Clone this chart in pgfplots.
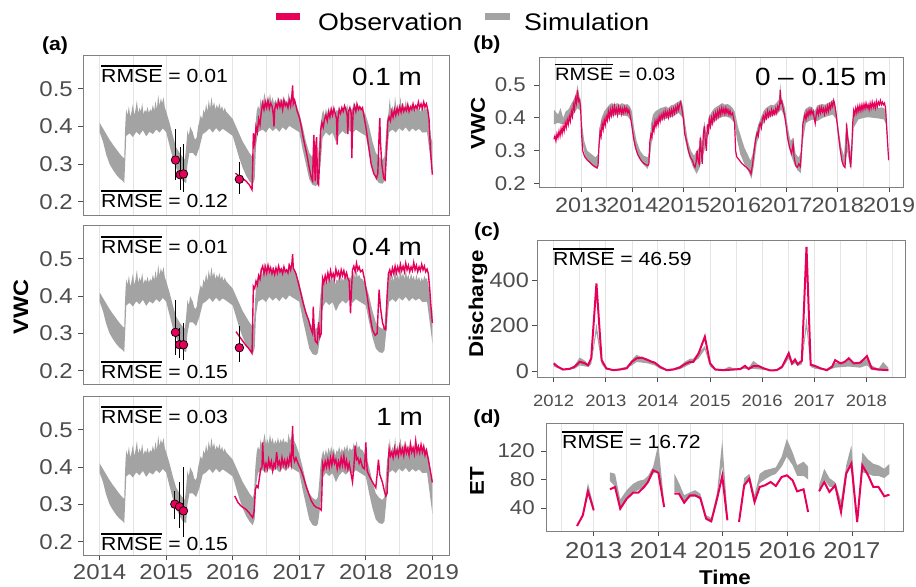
\documentclass[border=0pt]{standalone}
\usepackage{fontspec}
\setmainfont{Liberation Sans}[FakeStretch=1.12]
\usepackage{pgfplots}
\usepackage{pgfplotstable}
\pgfplotsset{compat=1.18}
\usepgfplotslibrary{fillbetween}
\definecolor{obs}{RGB}{230,0,90}
\definecolor{sim}{RGB}{163,163,163}
\definecolor{tickc}{RGB}{77,77,77}
\definecolor{gridc}{RGB}{228,228,228}
\definecolor{framec}{RGB}{128,128,128}
\newcommand{\ol}[1]{\vbox{\hrule height 1.3bp\kern 2.2bp\hbox{#1}}}
\newcommand{\fs}[1]{\fontsize{#1}{#1}\selectfont}

% ---------- panel (a): simulation band (shared) ----------
\pgfplotstableread{
x y
2014.00 0.410
2014.05 0.395
2014.10 0.380
2014.15 0.365
2014.20 0.352
2014.25 0.340
2014.30 0.328
2014.35 0.318
2014.37 0.316
2014.38 0.380
2014.39 0.420
2014.40 0.445
2014.42 0.430
2014.44 0.455
2014.46 0.425
2014.48 0.440
2014.50 0.460
2014.52 0.430
2014.54 0.445
2014.56 0.470
2014.58 0.435
2014.60 0.450
2014.62 0.440
2014.64 0.462
2014.66 0.432
2014.68 0.445
2014.70 0.438
2014.72 0.452
2014.74 0.436
2014.76 0.446
2014.78 0.440
2014.80 0.458
2014.82 0.442
2014.84 0.468
2014.86 0.445
2014.88 0.484
2014.90 0.455
2014.92 0.475
2014.94 0.462
2014.96 0.478
2014.98 0.450
2015.00 0.440
2015.05 0.410
2015.10 0.375
2015.15 0.345
2015.20 0.330
2015.25 0.318
2015.28 0.312
2015.30 0.345
2015.32 0.390
2015.34 0.375
2015.36 0.400
2015.38 0.392
2015.40 0.385
2015.42 0.370
2015.44 0.365
2015.46 0.372
2015.48 0.400
2015.50 0.415
2015.52 0.430
2015.54 0.420
2015.56 0.445
2015.58 0.435
2015.60 0.460
2015.62 0.440
2015.64 0.470
2015.66 0.448
2015.68 0.478
2015.70 0.452
2015.72 0.465
2015.74 0.445
2015.76 0.458
2015.78 0.448
2015.80 0.462
2015.82 0.445
2015.84 0.455
2015.86 0.440
2015.88 0.450
2015.90 0.440
2015.95 0.430
2016.00 0.420
2016.05 0.400
2016.10 0.380
2016.15 0.360
2016.20 0.345
2016.25 0.330
2016.30 0.318
2016.32 0.330
2016.34 0.400
2016.36 0.440
2016.38 0.455
2016.40 0.445
2016.42 0.475
2016.44 0.455
2016.46 0.470
2016.48 0.490
2016.50 0.460
2016.52 0.475
2016.54 0.462
2016.56 0.488
2016.58 0.465
2016.60 0.478
2016.62 0.460
2016.64 0.472
2016.66 0.462
2016.68 0.480
2016.70 0.462
2016.72 0.475
2016.74 0.465
2016.76 0.478
2016.78 0.465
2016.80 0.470
2016.82 0.462
2016.84 0.490
2016.86 0.470
2016.88 0.480
2016.90 0.500
2016.92 0.472
2016.95 0.460
2016.98 0.445
2017.00 0.435
2017.05 0.400
2017.10 0.360
2017.15 0.330
2017.20 0.318
2017.25 0.312
2017.28 0.320
2017.30 0.360
2017.32 0.405
2017.34 0.430
2017.36 0.445
2017.38 0.428
2017.40 0.448
2017.42 0.432
2017.44 0.452
2017.46 0.438
2017.48 0.455
2017.50 0.440
2017.52 0.450
2017.54 0.430
2017.56 0.445
2017.58 0.440
2017.60 0.455
2017.62 0.438
2017.64 0.450
2017.66 0.440
2017.68 0.455
2017.70 0.445
2017.72 0.460
2017.74 0.440
2017.76 0.452
2017.78 0.445
2017.80 0.448
2017.82 0.465
2017.84 0.448
2017.86 0.470
2017.88 0.450
2017.90 0.458
2017.92 0.448
2017.95 0.445
2018.00 0.430
2018.05 0.400
2018.10 0.360
2018.15 0.330
2018.20 0.318
2018.25 0.312
2018.28 0.320
2018.30 0.370
2018.32 0.420
2018.34 0.435
2018.36 0.475
2018.38 0.440
2018.40 0.455
2018.42 0.438
2018.44 0.480
2018.46 0.445
2018.48 0.460
2018.50 0.442
2018.52 0.478
2018.54 0.450
2018.56 0.462
2018.58 0.445
2018.60 0.470
2018.62 0.448
2018.64 0.458
2018.66 0.442
2018.68 0.462
2018.70 0.445
2018.72 0.455
2018.74 0.440
2018.76 0.458
2018.78 0.442
2018.80 0.452
2018.82 0.438
2018.84 0.450
2018.86 0.440
2018.88 0.455
2018.90 0.445
2018.92 0.448
2018.95 0.420
2018.98 0.370
2019.00 0.360
}\aU
\pgfplotstableread{
x y
2014.00 0.385
2014.05 0.360
2014.10 0.325
2014.15 0.300
2014.20 0.285
2014.25 0.272
2014.30 0.262
2014.35 0.255
2014.37 0.250
2014.39 0.330
2014.40 0.375
2014.45 0.382
2014.50 0.372
2014.55 0.386
2014.60 0.378
2014.65 0.390
2014.70 0.374
2014.75 0.386
2014.80 0.380
2014.85 0.392
2014.90 0.384
2014.95 0.395
2015.00 0.385
2015.05 0.350
2015.10 0.315
2015.15 0.290
2015.20 0.270
2015.25 0.255
2015.30 0.250
2015.32 0.300
2015.35 0.330
2015.40 0.330
2015.45 0.320
2015.50 0.345
2015.55 0.380
2015.60 0.386
2015.65 0.395
2015.70 0.384
2015.75 0.396
2015.80 0.386
2015.85 0.394
2015.90 0.388
2016.00 0.375
2016.05 0.345
2016.10 0.315
2016.15 0.290
2016.20 0.270
2016.25 0.255
2016.30 0.245
2016.33 0.260
2016.35 0.350
2016.38 0.385
2016.45 0.392
2016.50 0.384
2016.55 0.398
2016.60 0.388
2016.65 0.396
2016.70 0.386
2016.75 0.398
2016.80 0.390
2016.85 0.402
2016.90 0.396
2017.00 0.385
2017.05 0.340
2017.10 0.300
2017.15 0.260
2017.20 0.245
2017.25 0.242
2017.28 0.248
2017.32 0.300
2017.35 0.370
2017.40 0.385
2017.45 0.376
2017.50 0.384
2017.55 0.360
2017.60 0.378
2017.65 0.388
2017.70 0.380
2017.75 0.390
2017.80 0.382
2017.85 0.392
2017.90 0.386
2018.00 0.375
2018.05 0.330
2018.10 0.290
2018.15 0.260
2018.20 0.250
2018.25 0.248
2018.28 0.255
2018.32 0.330
2018.35 0.385
2018.40 0.392
2018.45 0.384
2018.50 0.396
2018.55 0.388
2018.60 0.398
2018.65 0.386
2018.70 0.395
2018.75 0.388
2018.80 0.394
2018.85 0.384
2018.92 0.385
2018.96 0.330
2019.00 0.275
}\aL

% ---------- panel (a) observations ----------
\pgfplotstableread{
x y
2016.04 0.276
2016.10 0.268
2016.15 0.262
2016.20 0.255
2016.25 0.245
2016.29 0.232
2016.30 0.294
2016.31 0.382
2016.33 0.355
2016.35 0.400
2016.37 0.385
2016.39 0.420
2016.41 0.405
2016.43 0.440
2016.45 0.462
2016.47 0.445
2016.49 0.465
2016.51 0.450
2016.53 0.470
2016.55 0.448
2016.57 0.462
2016.59 0.455
2016.61 0.432
2016.62 0.400
2016.63 0.445
2016.65 0.460
2016.67 0.450
2016.69 0.468
2016.71 0.452
2016.73 0.465
2016.75 0.445
2016.77 0.470
2016.79 0.455
2016.81 0.462
2016.83 0.450
2016.85 0.470
2016.87 0.455
2016.89 0.485
2016.90 0.509
2016.91 0.460
2016.93 0.470
2016.95 0.455
2016.97 0.440
2017.00 0.425
2017.03 0.400
2017.06 0.370
2017.09 0.345
2017.12 0.320
2017.15 0.290
2017.18 0.265
2017.20 0.256
2017.21 0.330
2017.22 0.378
2017.23 0.300
2017.24 0.255
2017.25 0.350
2017.26 0.372
2017.27 0.290
2017.28 0.248
2017.29 0.245
2017.31 0.330
2017.32 0.390
2017.34 0.410
2017.36 0.398
2017.38 0.420
2017.40 0.430
2017.42 0.415
2017.44 0.438
2017.46 0.425
2017.48 0.445
2017.50 0.430
2017.52 0.448
2017.54 0.435
2017.56 0.420
2017.57 0.352
2017.58 0.420
2017.60 0.445
2017.62 0.435
2017.64 0.450
2017.66 0.440
2017.68 0.455
2017.70 0.445
2017.72 0.430
2017.73 0.380
2017.74 0.440
2017.76 0.450
2017.78 0.435
2017.79 0.316
2017.80 0.400
2017.81 0.440
2017.83 0.455
2017.85 0.440
2017.87 0.458
2017.89 0.445
2017.91 0.452
2017.93 0.445
2017.95 0.450
2017.97 0.430
2018.00 0.400
2018.04 0.350
2018.08 0.300
2018.12 0.275
2018.16 0.263
2018.18 0.275
2018.20 0.380
2018.21 0.422
2018.22 0.360
2018.24 0.300
2018.27 0.262
2018.29 0.258
2018.31 0.330
2018.33 0.413
2018.35 0.425
2018.37 0.415
2018.39 0.440
2018.41 0.425
2018.43 0.445
2018.45 0.430
2018.47 0.448
2018.49 0.435
2018.51 0.452
2018.53 0.438
2018.55 0.455
2018.57 0.440
2018.59 0.450
2018.61 0.442
2018.63 0.458
2018.65 0.440
2018.67 0.452
2018.69 0.445
2018.71 0.460
2018.73 0.445
2018.75 0.455
2018.77 0.448
2018.79 0.465
2018.81 0.450
2018.83 0.460
2018.85 0.448
2018.87 0.465
2018.89 0.452
2018.91 0.460
2018.93 0.445
2018.95 0.420
2018.97 0.340
2019.00 0.272
}\aOa
\pgfplotstableread{
x y
2016.05 0.305
2016.10 0.292
2016.15 0.280
2016.20 0.268
2016.25 0.258
2016.29 0.247
2016.30 0.330
2016.31 0.426
2016.33 0.420
2016.35 0.440
2016.37 0.430
2016.39 0.455
2016.41 0.445
2016.43 0.470
2016.45 0.480
2016.47 0.460
2016.49 0.478
2016.51 0.462
2016.53 0.482
2016.55 0.465
2016.57 0.475
2016.59 0.460
2016.61 0.472
2016.63 0.458
2016.65 0.475
2016.67 0.462
2016.69 0.480
2016.71 0.465
2016.73 0.472
2016.75 0.460
2016.77 0.478
2016.79 0.465
2016.81 0.470
2016.83 0.462
2016.85 0.482
2016.87 0.470
2016.89 0.490
2016.90 0.512
2016.91 0.475
2016.93 0.468
2016.95 0.460
2016.98 0.440
2017.02 0.410
2017.06 0.380
2017.10 0.355
2017.14 0.336
2017.18 0.310
2017.20 0.300
2017.21 0.372
2017.22 0.330
2017.24 0.280
2017.27 0.274
2017.29 0.330
2017.31 0.290
2017.33 0.300
2017.35 0.448
2017.37 0.435
2017.39 0.455
2017.41 0.440
2017.43 0.462
2017.45 0.445
2017.47 0.468
2017.49 0.450
2017.51 0.460
2017.53 0.445
2017.55 0.472
2017.57 0.455
2017.59 0.465
2017.61 0.448
2017.63 0.470
2017.65 0.455
2017.67 0.468
2017.69 0.450
2017.71 0.462
2017.73 0.448
2017.75 0.440
2017.77 0.354
2017.78 0.400
2017.80 0.470
2017.82 0.480
2017.84 0.465
2017.86 0.488
2017.88 0.470
2017.90 0.478
2017.92 0.465
2017.95 0.470
2017.98 0.445
2018.02 0.400
2018.06 0.350
2018.10 0.310
2018.14 0.295
2018.17 0.300
2018.19 0.380
2018.20 0.417
2018.22 0.370
2018.25 0.330
2018.28 0.312
2018.30 0.310
2018.32 0.400
2018.34 0.460
2018.36 0.470
2018.38 0.455
2018.40 0.475
2018.42 0.460
2018.44 0.480
2018.46 0.462
2018.48 0.478
2018.50 0.465
2018.52 0.485
2018.54 0.468
2018.56 0.480
2018.58 0.465
2018.60 0.488
2018.62 0.470
2018.64 0.482
2018.66 0.465
2018.68 0.478
2018.70 0.468
2018.72 0.490
2018.74 0.470
2018.76 0.482
2018.78 0.465
2018.80 0.478
2018.82 0.468
2018.84 0.485
2018.86 0.470
2018.88 0.480
2018.90 0.465
2018.92 0.472
2018.94 0.460
2018.96 0.420
2018.98 0.370
2019.00 0.328
}\aOb
\pgfplotstableread{
x y
2016.03 0.323
2016.08 0.305
2016.13 0.295
2016.20 0.287
2016.25 0.277
2016.30 0.265
2016.32 0.280
2016.34 0.340
2016.36 0.350
2016.38 0.345
2016.40 0.370
2016.42 0.395
2016.44 0.400
2016.45 0.466
2016.46 0.420
2016.48 0.395
2016.50 0.410
2016.52 0.395
2016.54 0.420
2016.56 0.400
2016.58 0.415
2016.60 0.390
2016.62 0.410
2016.64 0.400
2016.66 0.440
2016.68 0.405
2016.70 0.415
2016.72 0.398
2016.74 0.425
2016.76 0.405
2016.78 0.418
2016.80 0.400
2016.82 0.420
2016.84 0.405
2016.86 0.430
2016.88 0.410
2016.90 0.510
2016.91 0.430
2016.93 0.415
2016.95 0.425
2016.98 0.410
2017.02 0.395
2017.06 0.375
2017.10 0.350
2017.14 0.330
2017.18 0.310
2017.22 0.298
2017.26 0.292
2017.30 0.290
2017.33 0.285
2017.34 0.330
2017.35 0.410
2017.37 0.395
2017.39 0.415
2017.41 0.400
2017.43 0.420
2017.45 0.400
2017.47 0.425
2017.49 0.405
2017.51 0.430
2017.53 0.410
2017.55 0.420
2017.57 0.395
2017.59 0.415
2017.61 0.400
2017.63 0.425
2017.65 0.405
2017.67 0.430
2017.69 0.400
2017.71 0.418
2017.73 0.395
2017.75 0.410
2017.78 0.380
2017.80 0.360
2017.82 0.400
2017.84 0.457
2017.86 0.420
2017.88 0.425
2017.90 0.410
2017.92 0.420
2017.95 0.400
2017.98 0.395
2018.00 0.466
2018.02 0.390
2018.05 0.377
2018.10 0.360
2018.15 0.345
2018.17 0.380
2018.19 0.420
2018.21 0.380
2018.25 0.359
2018.28 0.335
2018.30 0.323
2018.32 0.330
2018.34 0.420
2018.35 0.448
2018.37 0.430
2018.39 0.440
2018.41 0.425
2018.43 0.450
2018.45 0.432
2018.47 0.445
2018.49 0.430
2018.51 0.455
2018.53 0.435
2018.55 0.448
2018.57 0.430
2018.59 0.458
2018.61 0.438
2018.63 0.450
2018.65 0.432
2018.67 0.462
2018.69 0.440
2018.71 0.452
2018.73 0.435
2018.75 0.470
2018.77 0.440
2018.79 0.455
2018.81 0.438
2018.83 0.460
2018.85 0.440
2018.87 0.455
2018.89 0.432
2018.91 0.445
2018.94 0.420
2018.97 0.390
2019.00 0.359
}\aOc
\pgfplotstableread{
x y ep em
2015.14 0.311 0.083 0.053
2015.21 0.272 0.074 0.040
2015.26 0.274 0.080 0.047
2016.10 0.260 0.047 0.039
}\pA
\pgfplotstableread{
x y ep em
2015.14 0.303 0.087 0.060
2015.20 0.270 0.045 0.035
2015.26 0.270 0.059 0.041
2016.10 0.262 0.057 0.037
}\pB
\pgfplotstableread{
x y ep em
2015.13 0.301 0.036 0.039
2015.20 0.294 0.065 0.056
2015.26 0.283 0.116 0.071
}\pC

% ---------- panel (b) ----------
\pgfplotstableread{
x y
2012.47 0.335
2012.49 0.345
2012.51 0.330
2012.53 0.352
2012.55 0.340
2012.57 0.360
2012.59 0.345
2012.61 0.368
2012.63 0.352
2012.65 0.375
2012.67 0.360
2012.69 0.385
2012.71 0.370
2012.73 0.395
2012.75 0.380
2012.77 0.405
2012.79 0.390
2012.81 0.420
2012.83 0.405
2012.85 0.440
2012.87 0.425
2012.89 0.460
2012.91 0.445
2012.93 0.484
2012.95 0.450
2012.97 0.455
2012.99 0.433
2013.01 0.350
2013.03 0.300
2013.07 0.282
2013.12 0.272
2013.17 0.265
2013.22 0.257
2013.27 0.252
2013.31 0.248
2013.33 0.255
2013.35 0.320
2013.37 0.360
2013.39 0.345
2013.41 0.383
2013.43 0.365
2013.45 0.395
2013.47 0.378
2013.49 0.405
2013.51 0.392
2013.53 0.420
2013.55 0.400
2013.57 0.425
2013.59 0.408
2013.61 0.430
2013.63 0.412
2013.65 0.435
2013.67 0.415
2013.69 0.428
2013.71 0.410
2013.73 0.433
2013.75 0.418
2013.77 0.430
2013.79 0.412
2013.81 0.428
2013.83 0.415
2013.85 0.432
2013.87 0.418
2013.89 0.430
2013.91 0.415
2013.93 0.425
2013.95 0.410
2013.98 0.385
2014.02 0.340
2014.06 0.310
2014.10 0.290
2014.14 0.278
2014.18 0.268
2014.22 0.262
2014.26 0.258
2014.30 0.255
2014.32 0.260
2014.34 0.330
2014.36 0.350
2014.38 0.340
2014.40 0.375
2014.42 0.360
2014.44 0.390
2014.46 0.375
2014.48 0.395
2014.50 0.380
2014.52 0.405
2014.54 0.390
2014.56 0.410
2014.58 0.398
2014.60 0.415
2014.62 0.400
2014.64 0.420
2014.66 0.405
2014.68 0.418
2014.70 0.402
2014.72 0.422
2014.74 0.408
2014.76 0.425
2014.78 0.410
2014.80 0.428
2014.82 0.415
2014.84 0.432
2014.86 0.420
2014.88 0.438
2014.90 0.425
2014.92 0.442
2014.94 0.448
2014.96 0.430
2014.99 0.400
2015.02 0.350
2015.05 0.332
2015.09 0.300
2015.13 0.280
2015.17 0.270
2015.20 0.255
2015.22 0.250
2015.24 0.265
2015.26 0.300
2015.28 0.270
2015.30 0.260
2015.32 0.340
2015.34 0.300
2015.36 0.260
2015.38 0.350
2015.40 0.375
2015.42 0.330
2015.44 0.300
2015.46 0.380
2015.48 0.360
2015.50 0.395
2015.52 0.375
2015.54 0.400
2015.56 0.385
2015.58 0.410
2015.60 0.395
2015.62 0.415
2015.64 0.400
2015.66 0.420
2015.68 0.405
2015.70 0.425
2015.72 0.410
2015.74 0.430
2015.76 0.415
2015.78 0.428
2015.80 0.412
2015.82 0.430
2015.84 0.415
2015.86 0.425
2015.88 0.410
2015.90 0.422
2015.92 0.408
2015.95 0.415
2015.99 0.383
2016.01 0.300
2016.03 0.282
2016.08 0.272
2016.13 0.262
2016.18 0.255
2016.23 0.248
2016.28 0.240
2016.31 0.230
2016.34 0.260
2016.37 0.300
2016.40 0.335
2016.43 0.355
2016.45 0.345
2016.47 0.375
2016.49 0.383
2016.51 0.370
2016.53 0.395
2016.55 0.405
2016.57 0.392
2016.59 0.412
2016.61 0.400
2016.63 0.420
2016.65 0.405
2016.67 0.418
2016.69 0.408
2016.71 0.425
2016.73 0.410
2016.75 0.422
2016.77 0.412
2016.79 0.428
2016.81 0.415
2016.83 0.435
2016.85 0.425
2016.87 0.445
2016.88 0.484
2016.89 0.445
2016.91 0.450
2016.93 0.433
2016.96 0.410
2016.99 0.380
2017.02 0.342
2017.06 0.310
2017.10 0.292
2017.12 0.310
2017.13 0.322
2017.15 0.280
2017.18 0.255
2017.21 0.250
2017.24 0.260
2017.27 0.252
2017.30 0.320
2017.32 0.383
2017.34 0.395
2017.36 0.410
2017.38 0.395
2017.40 0.418
2017.42 0.405
2017.44 0.422
2017.46 0.410
2017.48 0.425
2017.50 0.412
2017.52 0.420
2017.54 0.400
2017.56 0.383
2017.58 0.410
2017.60 0.425
2017.62 0.410
2017.64 0.430
2017.66 0.415
2017.68 0.432
2017.70 0.418
2017.72 0.428
2017.74 0.412
2017.76 0.430
2017.78 0.418
2017.80 0.435
2017.82 0.420
2017.84 0.440
2017.86 0.428
2017.88 0.445
2017.90 0.435
2017.92 0.453
2017.94 0.440
2017.96 0.420
2017.99 0.380
2018.02 0.340
2018.05 0.300
2018.08 0.270
2018.11 0.255
2018.14 0.250
2018.16 0.300
2018.17 0.383
2018.19 0.340
2018.21 0.322
2018.23 0.280
2018.25 0.250
2018.27 0.300
2018.29 0.383
2018.31 0.423
2018.33 0.410
2018.35 0.430
2018.37 0.415
2018.39 0.435
2018.41 0.420
2018.43 0.438
2018.45 0.422
2018.47 0.440
2018.49 0.425
2018.51 0.442
2018.53 0.428
2018.55 0.445
2018.57 0.430
2018.59 0.440
2018.61 0.425
2018.63 0.445
2018.65 0.430
2018.67 0.448
2018.69 0.432
2018.71 0.445
2018.73 0.430
2018.75 0.450
2018.77 0.435
2018.79 0.448
2018.81 0.440
2018.83 0.453
2018.85 0.440
2018.87 0.448
2018.89 0.440
2018.91 0.445
2018.93 0.430
2018.96 0.350
2018.99 0.272
}\bO
\pgfplotstableread{
x y
2012.47 0.425
2012.55 0.410
2012.60 0.430
2012.65 0.400
2012.70 0.420
2012.75 0.425
2012.80 0.440
2012.85 0.455
2012.90 0.470
2012.93 0.500
2012.96 0.470
2012.99 0.455
2013.02 0.380
2013.06 0.330
2013.12 0.300
2013.20 0.290
2013.28 0.280
2013.33 0.290
2013.36 0.370
2013.40 0.400
2013.45 0.420
2013.50 0.430
2013.55 0.440
2013.60 0.445
2013.65 0.440
2013.70 0.445
2013.75 0.440
2013.80 0.445
2013.85 0.440
2013.90 0.442
2013.95 0.435
2013.99 0.420
2014.03 0.370
2014.08 0.330
2014.15 0.300
2014.22 0.285
2014.30 0.280
2014.33 0.300
2014.36 0.380
2014.40 0.410
2014.45 0.420
2014.50 0.425
2014.55 0.430
2014.60 0.432
2014.65 0.435
2014.70 0.430
2014.75 0.438
2014.80 0.440
2014.85 0.445
2014.90 0.450
2014.95 0.455
2014.99 0.430
2015.03 0.380
2015.08 0.330
2015.14 0.300
2015.20 0.285
2015.25 0.300
2015.30 0.310
2015.33 0.350
2015.36 0.320
2015.40 0.390
2015.44 0.350
2015.48 0.400
2015.55 0.420
2015.60 0.430
2015.65 0.435
2015.70 0.440
2015.75 0.445
2015.80 0.440
2015.85 0.442
2015.90 0.438
2015.95 0.430
2015.99 0.420
2016.02 0.400
2016.06 0.370
2016.12 0.340
2016.18 0.310
2016.24 0.290
2016.30 0.270
2016.34 0.290
2016.40 0.350
2016.45 0.380
2016.50 0.400
2016.55 0.420
2016.60 0.430
2016.65 0.435
2016.70 0.440
2016.75 0.438
2016.80 0.445
2016.85 0.455
2016.88 0.505
2016.90 0.465
2016.93 0.450
2016.97 0.430
2017.00 0.400
2017.04 0.360
2017.08 0.330
2017.13 0.340
2017.18 0.290
2017.24 0.280
2017.29 0.300
2017.32 0.400
2017.36 0.425
2017.40 0.430
2017.45 0.435
2017.50 0.432
2017.55 0.420
2017.60 0.438
2017.65 0.440
2017.70 0.442
2017.75 0.440
2017.80 0.445
2017.85 0.448
2017.90 0.455
2017.94 0.450
2017.98 0.410
2018.02 0.360
2018.07 0.310
2018.12 0.285
2018.17 0.390
2018.22 0.330
2018.26 0.290
2018.30 0.410
2018.35 0.430
2018.40 0.432
2018.45 0.430
2018.50 0.435
2018.55 0.432
2018.60 0.435
2018.65 0.430
2018.70 0.432
2018.75 0.435
2018.80 0.430
2018.85 0.432
2018.90 0.430
2018.94 0.420
2018.97 0.350
2018.99 0.280
}\bU
\pgfplotstableread{
x y
2012.47 0.380
2012.55 0.385
2012.65 0.380
2012.75 0.390
2012.85 0.410
2012.93 0.430
2012.99 0.420
2013.02 0.330
2013.08 0.280
2013.15 0.265
2013.25 0.250
2013.32 0.245
2013.36 0.320
2013.42 0.370
2013.50 0.395
2013.60 0.405
2013.70 0.410
2013.80 0.408
2013.90 0.405
2013.98 0.390
2014.03 0.320
2014.10 0.285
2014.20 0.260
2014.30 0.245
2014.34 0.280
2014.40 0.360
2014.50 0.385
2014.60 0.395
2014.70 0.400
2014.80 0.405
2014.90 0.415
2014.98 0.400
2015.03 0.330
2015.10 0.285
2015.18 0.250
2015.25 0.230
2015.30 0.245
2015.35 0.270
2015.40 0.300
2015.45 0.330
2015.50 0.370
2015.60 0.390
2015.70 0.400
2015.80 0.405
2015.90 0.400
2015.99 0.385
2016.03 0.340
2016.10 0.290
2016.18 0.260
2016.25 0.240
2016.32 0.215
2016.36 0.250
2016.42 0.320
2016.50 0.370
2016.60 0.395
2016.70 0.405
2016.80 0.410
2016.90 0.425
2016.97 0.400
2017.02 0.330
2017.08 0.290
2017.15 0.260
2017.22 0.240
2017.28 0.232
2017.32 0.330
2017.38 0.385
2017.50 0.395
2017.60 0.390
2017.70 0.400
2017.80 0.405
2017.90 0.410
2017.97 0.395
2018.02 0.320
2018.08 0.265
2018.14 0.245
2018.18 0.300
2018.22 0.270
2018.26 0.240
2018.31 0.370
2018.40 0.395
2018.50 0.400
2018.60 0.402
2018.70 0.400
2018.80 0.398
2018.90 0.395
2018.94 0.380
2018.99 0.265
}\bL

% ---------- panel (c) ----------
\pgfplotstableread{
x y
2012.00 34
2012.08 19
2012.18 7
2012.31 10
2012.40 19
2012.50 41
2012.60 34
2012.66 26
2012.72 56
2012.82 385
2012.92 48
2013.01 12
2013.14 4
2013.27 7
2013.40 12
2013.50 41
2013.59 56
2013.69 59
2013.78 51
2013.88 41
2013.94 37
2014.04 19
2014.17 4
2014.30 7
2014.42 16
2014.52 31
2014.62 41
2014.68 41
2014.78 78
2014.90 151
2015.00 34
2015.10 7
2015.26 4
2015.45 7
2015.58 9
2015.67 23
2015.74 9
2015.83 22
2015.93 22
2016.03 12
2016.15 3
2016.28 4
2016.38 19
2016.51 78
2016.57 34
2016.63 51
2016.68 30
2016.76 45
2016.85 546
2016.93 28
2017.02 22
2017.12 12
2017.24 4
2017.34 19
2017.40 48
2017.50 34
2017.58 40
2017.66 56
2017.76 34
2017.88 37
2018.01 66
2018.10 12
2018.23 7
2018.42 4
}\cO
\pgfplotstableread{
x y
2012.00 30
2012.10 10
2012.20 8
2012.30 12
2012.40 25
2012.50 60
2012.60 45
2012.66 30
2012.72 40
2012.82 210
2012.92 55
2013.01 15
2013.14 6
2013.27 12
2013.40 20
2013.50 50
2013.59 72
2013.69 60
2013.78 55
2013.88 45
2013.94 40
2014.04 20
2014.17 8
2014.30 12
2014.42 22
2014.52 42
2014.62 55
2014.68 55
2014.78 80
2014.90 110
2015.00 35
2015.10 10
2015.26 8
2015.37 20
2015.45 12
2015.58 12
2015.67 25
2015.74 15
2015.83 45
2015.93 28
2016.03 15
2016.15 6
2016.28 8
2016.38 22
2016.51 90
2016.57 40
2016.63 55
2016.68 35
2016.76 45
2016.85 240
2016.93 35
2017.02 25
2017.12 15
2017.24 10
2017.34 25
2017.40 35
2017.50 38
2017.58 35
2017.66 50
2017.76 35
2017.88 40
2018.01 55
2018.10 25
2018.23 10
2018.32 40
2018.42 15
}\cU
\pgfplotstableread{
x y
2012.00 20
2012.18 3
2012.40 10
2012.50 25
2012.66 18
2012.72 30
2012.82 170
2012.92 30
2013.01 5
2013.27 3
2013.50 25
2013.59 40
2013.78 35
2013.94 25
2014.04 10
2014.17 2
2014.42 8
2014.62 30
2014.78 55
2014.90 95
2015.00 20
2015.10 3
2015.45 3
2015.67 10
2015.83 10
2016.03 5
2016.28 2
2016.38 10
2016.51 55
2016.57 25
2016.63 35
2016.68 22
2016.76 30
2016.85 190
2016.93 18
2017.02 10
2017.24 2
2017.40 15
2017.66 20
2017.88 15
2018.01 25
2018.10 5
2018.23 2
2018.42 1
}\cL

% ---------- panel (d) ----------
\pgfplotstableread{
x y
2012.74 14.7
2012.83 29.7
2012.91 63.4
2013.00 36.7
2013.12 nan
2013.25 66.2
2013.33 69.5
2013.41 39.0
2013.51 53.0
2013.61 61.5
2013.69 61.5
2013.78 69.5
2013.84 76.5
2013.92 92.9
2014.00 89.6
2014.09 41.4
2014.17 nan
2014.25 60.0
2014.32 60.0
2014.40 47.5
2014.49 57.8
2014.57 57.8
2014.65 54.0
2014.74 25.0
2014.82 21.3
2014.91 53.0
2014.99 84.9
2015.07 22.7
2015.16 nan
2015.25 20.4
2015.33 71.8
2015.41 81.2
2015.49 48.4
2015.57 69.5
2015.65 71.8
2015.74 76.5
2015.82 70.9
2015.91 83.5
2015.99 85.9
2016.08 78.8
2016.15 63.4
2016.25 66.2
2016.32 34.4
2016.40 nan
2016.49 63.4
2016.57 76.5
2016.65 62.5
2016.74 71.8
2016.83 34.4
2016.91 88.2
2016.99 102.2
2017.08 20.4
2017.16 99.9
2017.25 85.9
2017.33 69.5
2017.41 69.5
2017.50 56.4
2017.58 58.7
}\dO

\pgfplotsset{
  pan/.style={
    scale only axis, anchor=south west,
    axis line style={framec, line width=0.9bp},
    tick align=outside, major tick length=5bp, minor tick length=0pt,
    major tick style={tickc, line width=0.9bp},
    xtick pos=left, ytick pos=left,
    xmajorgrids, xminorgrids, ymajorgrids=false,
    major grid style={gridc, line width=0.9bp},
    minor grid style={gridc, line width=0.7bp},
    ticklabel style={text=tickc, inner sep=0pt},
    xticklabel style={/pgf/number format/1000 sep={}},
    /pgf/number format/assume math mode=true,
  },
  apan/.style={
    pan, width=366bp, height=159bp,
    xmin=2013.75, xmax=2019.25, ymin=0.165, ymax=0.59,
    xtick={2014,...,2019}, minor xtick={2014.5,2015.5,2016.5,2017.5,2018.5},
    ytick={0.2,0.3,0.4,0.5},
    yticklabel style={font=\fs{21.5}, /pgf/number format/.cd, fixed, fixed zerofill, precision=1},
    xticklabel style={font=\fs{21.5}},
    yticklabel shift=5bp, xticklabel shift=4bp,
  },
  pts/.style={only marks, mark=*, mark size=4.3bp,
    mark options={fill=obs, draw=black, line width=0.7bp},
    error bars/.cd, y dir=both, y explicit,
    error bar style={black, line width=1.3bp}, error mark=none},
}

\begin{document}
\begin{tikzpicture}
\path (0,0) rectangle (916bp,-587bp);

% ===== (a) 0.1 m =====
\begin{axis}[apan, at={(83bp,-215bp)}, height=160bp, xticklabels={}, xtick style={draw=none}]
\addplot[name path=U, draw=none] table {\aU};
\addplot[name path=L, draw=none] table {\aL};
\addplot[sim, draw=none] fill between[of=U and L];
\addplot[obs, line width=1.4bp] table {\aOa};
\addplot[pts] table[x=x, y=y, y error plus=ep, y error minus=em] {\pA};
\end{axis}

% ===== (a) 0.4 m =====
\begin{axis}[apan, at={(83bp,-384bp)}, xticklabels={}, xtick style={draw=none}]
\addplot[name path=U, draw=none] table {\aU};
\addplot[name path=L, draw=none] table {\aL};
\addplot[sim, draw=none] fill between[of=U and L];
\addplot[obs, line width=1.4bp] table {\aOb};
\addplot[pts] table[x=x, y=y, y error plus=ep, y error minus=em] {\pB};
\end{axis}

% ===== (a) 1 m =====
\begin{axis}[apan, at={(83bp,-555bp)}]
\addplot[name path=U, draw=none] table {\aU};
\addplot[name path=L, draw=none] table {\aL};
\addplot[sim, draw=none] fill between[of=U and L];
\addplot[obs, line width=1.4bp] table {\aOc};
\addplot[pts] table[x=x, y=y, y error plus=ep, y error minus=em] {\pC};
\end{axis}

% ===== (b) =====
\begin{axis}[pan, at={(539bp,-187bp)}, width=364bp, height=130bp,
  xmin=2012.18, xmax=2019.27, ymin=0.19, ymax=0.585,
  xtick={2013,...,2019}, minor xtick={2012.5,2013.5,2014.5,2015.5,2016.5,2017.5,2018.5},
  ytick={0.2,0.3,0.4,0.5},
  yticklabel style={font=\fs{20}, /pgf/number format/.cd, fixed, fixed zerofill, precision=1},
  xticklabel style={font=\fs{21}},
  yticklabel shift=8bp, xticklabel shift=6bp]
\addplot[name path=U, draw=none] table {\bU};
\addplot[name path=L, draw=none] table {\bL};
\addplot[sim, draw=none] fill between[of=U and L];
\addplot[obs, line width=1.2bp] table {\bO};
\end{axis}

% ===== (c) =====
\begin{axis}[pan, at={(537bp,-377bp)}, width=368bp, height=137bp,
  xmin=2011.68, xmax=2018.74, ymin=-26, ymax=576,
  xtick={2012,...,2018}, minor xtick={2012.5,2013.5,2014.5,2015.5,2016.5,2017.5,2018.5},
  ytick={0,200,400},
  yticklabel style={font=\fs{21}},
  xticklabel style={font=\fs{16.5}},
  yticklabel shift=3bp, xticklabel shift=13bp]
\addplot[name path=U, draw=none] table {\cU};
\addplot[name path=L, draw=none] table {\cL};
\addplot[sim, draw=none] fill between[of=U and L];
\addplot[obs, line width=2bp] table {\cO};
\end{axis}

% ===== (d) =====
\begin{axis}[pan, at={(546bp,-531bp)}, width=357bp, height=108bp,
  xmin=2012.26, xmax=2017.79, ymin=7.7, ymax=159.3,
  xtick={2013,...,2017}, minor xtick={2012.5,2013.5,2014.5,2015.5,2016.5,2017.5},
  ytick={40,80,120},
  yticklabel style={font=\fs{20}},
  xticklabel style={font=\fs{23}},
  yticklabel shift=6bp, xticklabel shift=6bp,
  unbounded coords=jump]
\addplot[fill=sim, draw=none] coordinates {(2012.83,34) (2012.91,75) (2013.0,42) (2013.0,36) (2012.91,60) (2012.83,29)} --cycle;
\addplot[fill=sim, draw=none] coordinates {(2013.25,90) (2013.33,88) (2013.41,52) (2013.51,65) (2013.61,74) (2013.69,78) (2013.78,80) (2013.84,85) (2013.92,98) (2014.00,130) (2014.09,48)
 (2014.09,40) (2014.00,92) (2013.92,88) (2013.84,75) (2013.78,70) (2013.69,65) (2013.61,62) (2013.51,52) (2013.41,40) (2013.33,70) (2013.25,78)} --cycle;
\addplot[fill=sim, draw=none] coordinates {(2014.25,88) (2014.32,75) (2014.40,58) (2014.49,62) (2014.57,65) (2014.65,60) (2014.74,30) (2014.82,26) (2014.91,62) (2014.99,135) (2015.07,32)
 (2015.07,24) (2014.99,100) (2014.91,55) (2014.82,20) (2014.74,24) (2014.65,52) (2014.57,56) (2014.49,55) (2014.40,46) (2014.32,62) (2014.25,62)} --cycle;
\addplot[fill=sim, draw=none] coordinates {(2015.25,25) (2015.33,82) (2015.41,88) (2015.49,58) (2015.57,88) (2015.65,93) (2015.74,95) (2015.82,97) (2015.91,112) (2015.99,137) (2016.08,118) (2016.15,100) (2016.25,105) (2016.32,98)
 (2016.32,80) (2016.25,85) (2016.15,85) (2016.08,100) (2015.99,112) (2015.91,98) (2015.82,88) (2015.74,85) (2015.65,80) (2015.57,75) (2015.49,48) (2015.41,78) (2015.33,72) (2015.25,20)} --cycle;
\addplot[fill=sim, draw=none] coordinates {(2016.49,72) (2016.57,95) (2016.65,82) (2016.74,76) (2016.83,50) (2016.91,100) (2016.99,128) (2017.08,25) (2017.16,118) (2017.25,108) (2017.33,102) (2017.41,100) (2017.50,95) (2017.58,102)
 (2017.58,88) (2017.50,82) (2017.41,85) (2017.33,85) (2017.25,88) (2017.16,90) (2017.08,19) (2016.99,100) (2016.91,88) (2016.83,38) (2016.74,68) (2016.65,70) (2016.57,80) (2016.49,65)} --cycle;
\addplot[obs, line width=2bp] table {\dO};
\end{axis}

% ===== annotations =====
\begin{scope}[every node/.style={inner sep=0pt}]
% legend
\fill[obs] (276bp,-13bp) rectangle (300bp,-20bp);
\node[anchor=base west, font=\fs{24}] at (318bp,-30.5bp) {Observation};
\fill[sim] (485bp,-13bp) rectangle (510bp,-20bp);
\node[anchor=base west, font=\fs{24}] at (524bp,-30.5bp) {Simulation};
% panel letters
\node[font=\bfseries\fs{19}] at (55bp,-46bp) {(a)};
\node[font=\bfseries\fs{19}] at (487bp,-45bp) {(b)};
\node[font=\bfseries\fs{19}] at (487bp,-232bp) {(c)};
\node[font=\bfseries\fs{19}] at (487bp,-419bp) {(d)};
% axis titles
\node[font=\bfseries\fs{21}, rotate=90] at (21bp,-307bp) {VWC};
\node[font=\bfseries\fs{20}, rotate=90] at (478bp,-123bp) {VWC};
\node[font=\bfseries\fs{20}, rotate=90] at (478bp,-304bp) {Discharge};
\node[font=\bfseries\fs{20}, rotate=90] at (477bp,-481bp) {ET};
\node[anchor=base, font=\bfseries\fs{20}] at (725bp,-584bp) {Time};
% RMSE
\node[anchor=base west, font=\fs{19}] at (101bp,-82bp) {\ol{RMSE} = 0.01};
\node[anchor=base west, font=\fs{19}] at (101bp,-207bp) {\ol{RMSE} = 0.12};
\node[anchor=base west, font=\fs{19}] at (101bp,-253bp) {\ol{RMSE} = 0.01};
\node[anchor=base west, font=\fs{19}] at (101bp,-378bp) {\ol{RMSE} = 0.15};
\node[anchor=base west, font=\fs{19}] at (101bp,-423bp) {\ol{RMSE} = 0.03};
\node[anchor=base west, font=\fs{19}] at (101bp,-550bp) {\ol{RMSE} = 0.15};
\node[anchor=base west, font=\fs{18}] at (555bp,-80bp) {\ol{RMSE} = 0.03};
\node[anchor=base west, font=\fs{19}] at (553bp,-265bp) {\ol{RMSE} = 46.59};
\node[anchor=base west, font=\fs{19}] at (562bp,-448bp) {\ol{RMSE} = 16.72};
% depth labels
\node[anchor=base east, font=\fs{25}] at (422bp,-85bp) {0.1 m};
\node[anchor=base east, font=\fs{25}] at (422bp,-255bp) {0.4 m};
\node[anchor=base east, font=\fs{25}] at (423bp,-425bp) {1 m};
\node[anchor=base east, font=\fs{25}] at (887bp,-85bp) {0 -- 0.15 m};
\end{scope}
\end{tikzpicture}
\end{document}
